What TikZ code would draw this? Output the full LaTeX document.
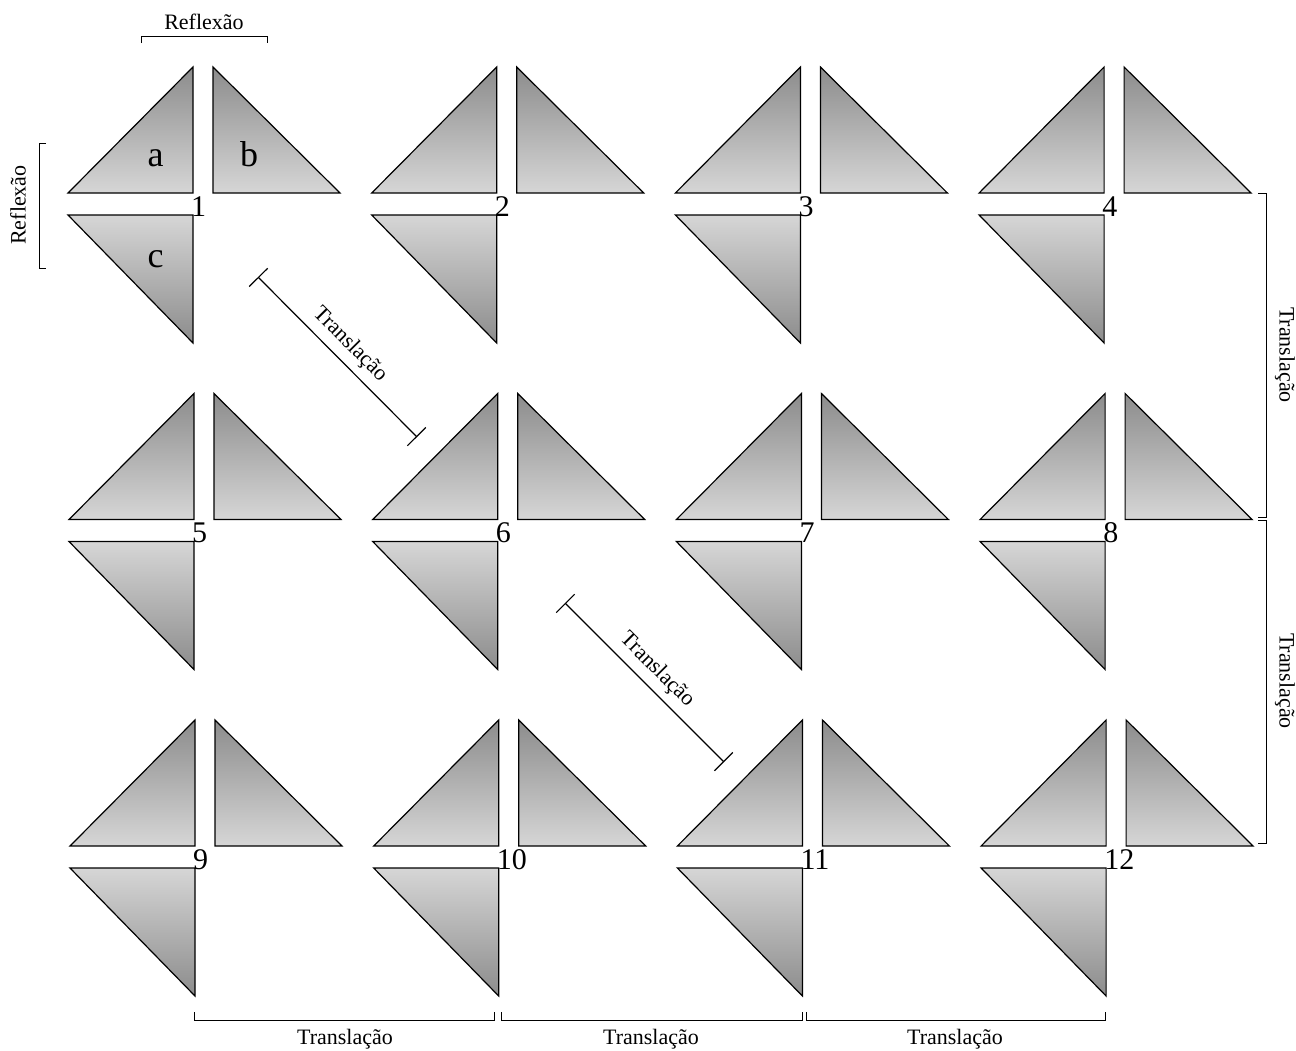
\documentclass[tikz,border=0pt]{standalone}
\usepackage{fontspec}
\setmainfont{Liberation Serif}
\usetikzlibrary{arrows.meta}
\definecolor{tdark}{RGB}{140,140,140}
\definecolor{tlight}{RGB}{214,214,214}
\begin{document}
\begin{tikzpicture}[x=1pt,y=-1pt,
  tri/.style={draw=black,line width=1.2pt,line join=miter},
  dn/.style={tri,top color=tlight,bottom color=tdark},
  up/.style={tri,top color=tdark,bottom color=tlight},
  numlbl/.style={anchor=base west,inner sep=0pt,font=\fontsize{30}{34}\selectfont},
  letlbl/.style={anchor=base,inner sep=0pt,font=\fontsize{36}{40}\selectfont},
  lbl/.style={inner sep=0pt,font=\fontsize{22}{26}\selectfont},
  brk/.style={draw=black,line width=1pt},
  trn/.style={draw=black,line width=1.2pt,{Bar[width=26pt,line width=1.2pt]}-{Bar[width=26pt,line width=1.2pt]}}]
\useasboundingbox (0,0) rectangle (1296,1050);

\foreach \r in {0,1,2}{
 \foreach \c in {0,1,2,3}{
  \pgfmathsetmacro\V{193+303.7*\c+\r}
  \pgfmathsetmacro\B{193+326.5*\r}
  \pgfmathtruncatemacro\n{4*\r+\c+1}
  \shadedraw[up] (\V-125,\B) -- (\V,\B) -- (\V,\B-126) -- cycle;
  \shadedraw[up] (\V+20,\B-126) -- (\V+20,\B) -- (\V+147,\B) -- cycle;
  \shadedraw[dn] (\V-125,\B+22) -- (\V,\B+22) -- (\V,\B+150) -- cycle;
  \node[numlbl] (n\n) at (\V-2,\B+23) {\n};
 }
}

\node[letlbl] (la) at (155.5,166) {a};
\node[letlbl] (lb) at (249,166) {b};
\node[letlbl] (lc) at (155.5,267) {c};

% top reflection bracket
\coordinate (rt1) at (141,43);
\coordinate (rt2) at (267,43);
\draw[brk] (rt1) -- ++(0,-7) -| (rt2);
\node[lbl] (rtl) at (204,22) {Reflexão};

% left reflection bracket
\coordinate (rl1) at (46,143);
\coordinate (rl2) at (46,268);
\draw[brk] (rl1) -- ++(-7,0) |- (rl2);
\node[lbl,rotate=90] (rll) at (18,205) {Reflexão};

% right translation brackets
\coordinate (ra1) at (1258,193);
\coordinate (ra2) at (1258,517);
\coordinate (rb1) at (1258,520);
\coordinate (rb2) at (1258,843);
\draw[brk] (ra1) -- ++(8,0) |- (ra2);
\draw[brk] (rb1) -- ++(8,0) |- (rb2);
\node[lbl,rotate=-90] (ral) at (1285,355) {Translação};
\node[lbl,rotate=-90] (rbl) at (1285,681) {Translação};

% bottom translation brackets
\coordinate (b1a) at (194,1012);
\coordinate (b1b) at (494,1012);
\coordinate (b2a) at (501,1012);
\coordinate (b2b) at (802,1012);
\coordinate (b3a) at (806,1012);
\coordinate (b3b) at (1105,1012);
\draw[brk] (b1a) -- ++(0,8) -| (b1b);
\draw[brk] (b2a) -- ++(0,8) -| (b2b);
\draw[brk] (b3a) -- ++(0,8) -| (b3b);
\node[lbl] (bl1) at (345,1039) {Translação};
\node[lbl] (bl2) at (651,1039) {Translação};
\node[lbl] (bl3) at (955,1039) {Translação};

% diagonal translations
\coordinate (d1a) at (258,277);
\coordinate (d1b) at (417,437);
\coordinate (d2a) at (565,603);
\coordinate (d2b) at (724,762);
\draw[trn] (d1a) -- node[lbl,midway,above=7pt,sloped] {Translação} (d1b);
\draw[trn] (d2a) -- node[lbl,midway,above=7pt,sloped] {Translação} (d2b);
\end{tikzpicture}
\end{document}
